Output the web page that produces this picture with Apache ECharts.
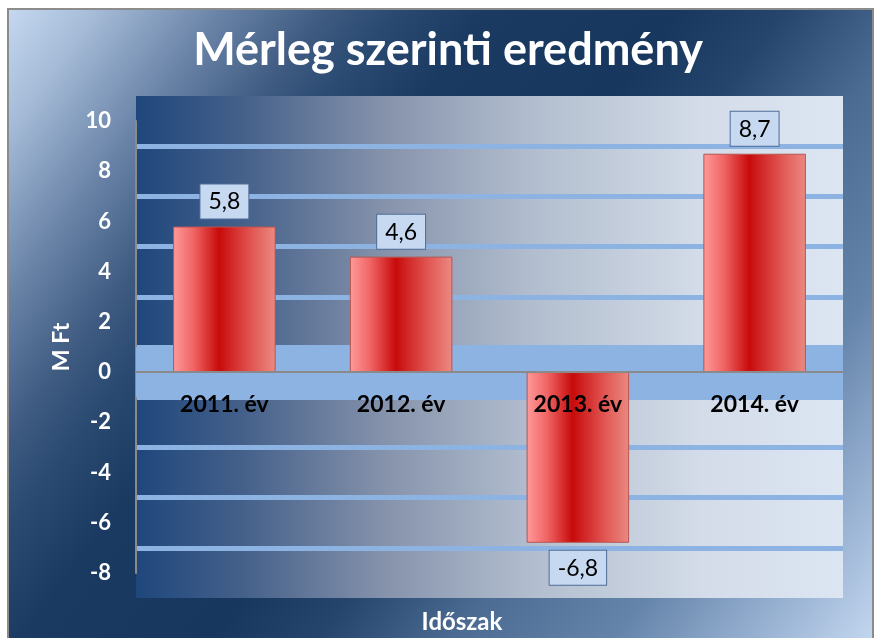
<!DOCTYPE html>
<html>
<head>
<meta charset="utf-8">
<script src="https://cdn.jsdelivr.net/npm/echarts@6/dist/echarts.min.js"></script>
<style>
html,body{margin:0;padding:0;background:#ffffff;}
#chart{width:877px;height:638px;}
</style>
</head>
<body>
<div id="chart"></div>
<script>
const titleText = 'Mérleg szerinti eredmény';
const categories = ['2011. év', '2012. év', '2013. év', '2014. év'];
const values = [5.8, 4.6, -6.8, 8.7];
const yAxisName = 'M Ft';
const xAxisName = 'Időszak';
const yTickMin = -8, yTickMax = 10, yTickStep = 2;
const bandLow = -1, bandHigh = 1;

const FONT = 'Lato, "Open Sans", "Noto Sans", sans-serif';
const chart = echarts.init(document.getElementById('chart'), null, {renderer: 'canvas'});

const outerGrad = new echarts.graphic.LinearGradient(0, 0, 1, 1, [
  {offset: 0, color: '#c6d9f1'},
  {offset: 0.07, color: '#a4bad6'},
  {offset: 0.16, color: '#6a84a8'},
  {offset: 0.24, color: '#3e5a80'},
  {offset: 0.29, color: '#2a4a72'},
  {offset: 0.36, color: '#1a3a62'},
  {offset: 0.5, color: '#17375e'},
  {offset: 0.58, color: '#26456d'},
  {offset: 0.68, color: '#4c6b92'},
  {offset: 0.8, color: '#6584aa'},
  {offset: 0.9, color: '#95afd0'},
  {offset: 1, color: '#c6d9f1'}
]);
const plotGrad = new echarts.graphic.LinearGradient(0, 0, 1, 0, [
  {offset: 0, color: '#1f477c'},
  {offset: 0.15, color: '#44608a'},
  {offset: 0.35, color: '#8592ab'},
  {offset: 0.55, color: '#b0bccd'},
  {offset: 0.8, color: '#d3dce8'},
  {offset: 1, color: '#dce6f2'}
]);
const barGrad = new echarts.graphic.LinearGradient(0, 0, 1, 0, [
  {offset: 0, color: '#ff9a9a'},
  {offset: 0.2, color: '#f06464'},
  {offset: 0.45, color: '#c80a0a'},
  {offset: 0.55, color: '#d02424'},
  {offset: 0.78, color: '#e25a56'},
  {offset: 1, color: '#ea8a82'}
]);

const option = {
  animation: false,
  graphic: {
    elements: [{
      type: 'rect', z: -100, silent: true,
      shape: {x: 8, y: 9, width: 865, height: 640},
      style: {fill: outerGrad, stroke: '#8c8c8c', lineWidth: 2}
    }]
  },
  title: [{
    text: titleText,
    left: 443, top: 23, textAlign: 'center',
    textStyle: {color: '#ffffff', fontSize: 45, fontWeight: 'bold', fontFamily: FONT}
  }, {
    text: xAxisName,
    left: 457, top: 605, textAlign: 'center',
    textStyle: {color: '#ffffff', fontSize: 24, fontWeight: 'bold', fontFamily: FONT}
  }],
  grid: [{
    left: 136, right: 34, top: 96, height: 502,
    show: true, backgroundColor: plotGrad, borderWidth: 0
  }, {
    left: 136, right: 34, top: 121, height: 452,
    show: false
  }],
  xAxis: [{
    type: 'category', gridIndex: 0, data: categories, z: 10,
    position: 'bottom', offset: -226,
    axisLine: {show: true, onZero: false, lineStyle: {color: '#8a8a8a', width: 2}},
    axisTick: {show: false},
    axisLabel: {color: '#000000', fontSize: 23, fontWeight: 'bold', fontFamily: FONT, margin: 21}
  }, {
    type: 'category', gridIndex: 1, data: categories, show: false
  }],
  yAxis: [{
    type: 'value', gridIndex: 0, min: -9, max: 11, interval: 2,
    axisLine: {show: false}, axisTick: {show: false}, axisLabel: {show: false},
    splitLine: {show: true, showMinLine: false, showMaxLine: false,
      lineStyle: {color: '#8db3e2', width: 5}}
  }, {
    type: 'value', gridIndex: 1, min: yTickMin, max: yTickMax, interval: yTickStep,
    name: yAxisName, nameLocation: 'middle', nameRotate: 90, nameGap: 63,
    nameTextStyle: {color: '#ffffff', fontSize: 23, fontWeight: 'bold', fontFamily: FONT},
    axisLine: {show: true, lineStyle: {color: '#8a8a8a', width: 2}},
    axisTick: {show: false},
    splitLine: {show: false},
    axisLabel: {color: '#ffffff', fontSize: 22, fontWeight: 'bold', fontFamily: FONT, margin: 25}
  }],
  series: [{
    type: 'bar', xAxisIndex: 0, yAxisIndex: 0,
    data: values.map(v => v < 0 ? {value: v, label: {position: 'bottom'}} : v),
    barCategoryGap: '42%',
    itemStyle: {color: barGrad, borderColor: '#b85450', borderWidth: 1},
    label: {
      show: true,
      position: 'top',
      distance: 8,
      formatter: p => String(p.value).replace('.', ','),
      color: '#000000', fontSize: 23, fontFamily: FONT,
      backgroundColor: '#c6d9f1', borderColor: '#4f6d96', borderWidth: 1,
      padding: [6, 8, 5, 8]
    },
    markArea: {
      silent: true,
      itemStyle: {color: '#8db3e2'},
      data: [[{yAxis: bandLow}, {yAxis: bandHigh}]]
    },
    z: 3
  }]
};
chart.setOption(option);
</script>
</body>
</html>
